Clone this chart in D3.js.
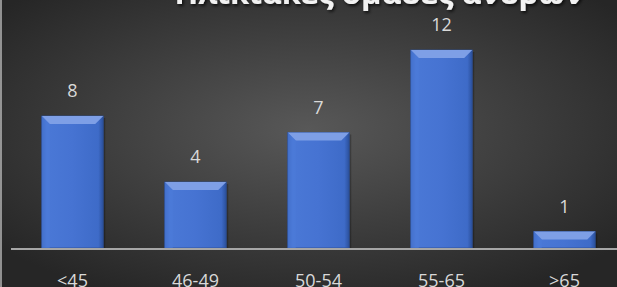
<!DOCTYPE html>
<html>
<head>
<meta charset="utf-8">
<script src="https://cdn.jsdelivr.net/npm/d3@7"></script>
<style>
  body { margin: 0; background: #2b2b2b; }
  svg { display: block; }
</style>
</head>
<body>
<script>
// chart data
const categories = ["<45", "46-49", "50-54", "55-65", ">65"];
const counts = [8, 4, 7, 12, 1];
const title = "Ηλικιακές ομάδες ανδρών";

const width = 617, height = 287;
const svg = d3.select("body").append("svg")
  .attr("width", width)
  .attr("height", height);

const defs = svg.append("defs");

// dark radial background
const bg = defs.append("radialGradient").attr("id", "bg")
  .attr("cx", "50%").attr("cy", "45%").attr("r", "65%");
bg.append("stop").attr("offset", "0%").attr("stop-color", "#585858");
bg.append("stop").attr("offset", "100%").attr("stop-color", "#262626");

// bar body gradient
const barGrad = defs.append("linearGradient").attr("id", "barGrad")
  .attr("x1", 0).attr("x2", 1).attr("y1", 0).attr("y2", 0);
barGrad.append("stop").attr("offset", "0%").attr("stop-color", "#3560b8");
barGrad.append("stop").attr("offset", "8%").attr("stop-color", "#4a78d6");
barGrad.append("stop").attr("offset", "50%").attr("stop-color", "#4673d2");
barGrad.append("stop").attr("offset", "92%").attr("stop-color", "#3e6bc8");
barGrad.append("stop").attr("offset", "100%").attr("stop-color", "#2b509c");

const shadow = defs.append("filter").attr("id", "tshadow")
  .attr("x", "-10%").attr("y", "-50%").attr("width", "120%").attr("height", "200%");
shadow.append("feDropShadow").attr("dx", 1.5).attr("dy", 2)
  .attr("stdDeviation", 1.5).attr("flood-color", "#000").attr("flood-opacity", 0.7);

svg.append("rect").attr("width", width).attr("height", height).attr("fill", "url(#bg)");

// scales
const x = d3.scaleBand()
  .domain(categories)
  .range([11, 626])
  .paddingInner(0.5)
  .paddingOuter(0.25);

const y = d3.scaleLinear()
  .domain([0, 12])
  .range([248, 50]);

// bars
const bars = svg.selectAll(".bar")
  .data(categories)
  .join(enter => {
    let g = enter.append("g").classed("bar", true);
    // soft shadow on the right
    g.append("rect")
      .attr("x", d => x(d) + 2)
      .attr("y", (d, i) => y(counts[i]) + 2)
      .attr("width", x.bandwidth())
      .attr("height", (d, i) => y(0) - y(counts[i]) - 2)
      .attr("fill", "#000").attr("opacity", 0.25);
    g.append("rect")
      .attr("x", d => x(d))
      .attr("y", (d, i) => y(counts[i]))
      .attr("width", x.bandwidth())
      .attr("height", (d, i) => y(0) - y(counts[i]))
      .attr("fill", "url(#barGrad)")
      .attr("stroke", "#2d4f95").attr("stroke-width", 0.8);
    // bevel on top
    g.append("path")
      .attr("d", (d, i) => {
        const x0 = x(d), x1 = x(d) + x.bandwidth(), t = y(counts[i]), b = 8;
        return `M${x0},${t}L${x1},${t}L${x1 - b},${t + b}L${x0 + b},${t + b}Z`;
      })
      .attr("fill", "#7e9fe6");
    g.append("path")
      .attr("d", (d, i) => {
        const x0 = x(d), t = y(counts[i]), b = 8;
        return `M${x0},${t}L${x0 + b},${t + b}L${x0 + b},${y(0)}L${x0},${y(0)}Z`;
      })
      .attr("fill", "#4d7bd8").attr("opacity", 0.6);
    return g;
  });

// baseline
svg.append("line")
  .attr("x1", 11).attr("x2", width)
  .attr("y1", y(0) + 1).attr("y2", y(0) + 1)
  .attr("stroke", "#a6a6a6").attr("stroke-width", 2);

// value labels
svg.selectAll(".val")
  .data(categories)
  .join("text")
  .attr("class", "val")
  .attr("x", d => x(d) + x.bandwidth() / 2)
  .attr("y", (d, i) => y(counts[i]) - 19)
  .attr("text-anchor", "middle")
  .attr("font-family", "'Open Sans', 'Noto Sans', sans-serif")
  .attr("font-size", 18)
  .attr("fill", "#d9d9d9")
  .text((d, i) => counts[i]);

// category labels
svg.selectAll(".cat")
  .data(categories)
  .join("text")
  .attr("class", "cat")
  .attr("x", d => x(d) + x.bandwidth() / 2)
  .attr("y", 287)
  .attr("text-anchor", "middle")
  .attr("font-family", "'Open Sans', 'Noto Sans', sans-serif")
  .attr("font-size", 18)
  .attr("fill", "#d9d9d9")
  .text(d => d);

// title (cut off at the top)
svg.append("text")
  .attr("x", 379)
  .attr("y", 4)
  .attr("text-anchor", "middle")
  .attr("font-family", "'Open Sans', 'Noto Sans', sans-serif")
  .attr("font-weight", "bold")
  .attr("font-size", 31)
  .attr("fill", "#f2f2f2")
  .attr("filter", "url(#tshadow)")
  .text(title);

// left border
svg.append("line")
  .attr("x1", 1).attr("x2", 1).attr("y1", 0).attr("y2", height)
  .attr("stroke", "#d9d9d9").attr("stroke-width", 1.2);
</script>
</body>
</html>
